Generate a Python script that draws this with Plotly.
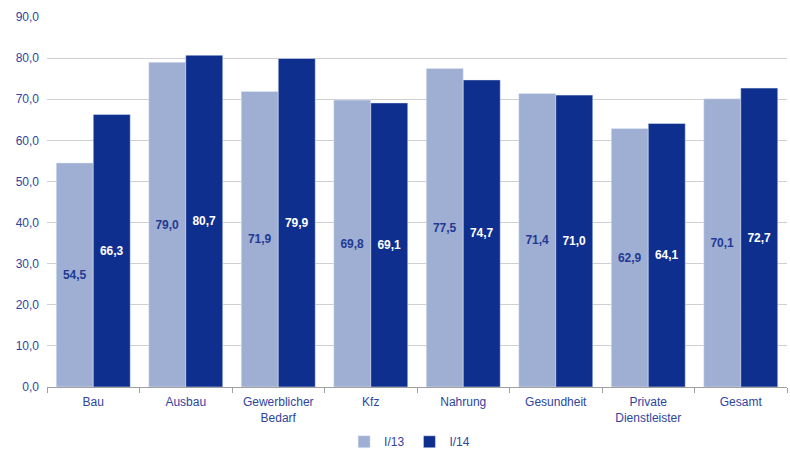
import plotly.graph_objects as go

categories = ["Bau", "Ausbau", "Gewerblicher<br>Bedarf", "Kfz", "Nahrung", "Gesundheit", "Private<br>Dienstleister", "Gesamt"]
i13 = [54.5, 79.0, 71.9, 69.8, 77.5, 71.4, 62.9, 70.1]
i14 = [66.3, 80.7, 79.9, 69.1, 74.7, 71.0, 64.1, 72.7]
y_ticks = [0, 10, 20, 30, 40, 50, 60, 70, 80, 90]

def fmt(v):
    return f"{v:.1f}".replace(".", ",")

txtcol = "#2E45A0"
fig = go.Figure()
fig.add_trace(go.Bar(x=categories, y=i13, name="I/13", marker_color="#9FAED3",
                     text=[fmt(v) for v in i13], textposition="inside", insidetextanchor="middle",
                     textfont=dict(color="#1F3A93", size=12, family="Liberation Sans", weight="bold"),
                     textangle=0))
fig.add_trace(go.Bar(x=categories, y=i14, name="I/14", marker_color="#0F2F8F",
                     text=[fmt(v) for v in i14], textposition="inside", insidetextanchor="middle",
                     textfont=dict(color="white", size=12, family="Liberation Sans", weight="bold"),
                     textangle=0))
fig.update_layout(
    width=790, height=452, barmode="group", bargap=0.2, bargroupgap=0,
    margin=dict(l=47, r=3, t=17, b=65, autoexpand=False),
    plot_bgcolor="white", paper_bgcolor="white",
    separators=",.",
    font=dict(family="Liberation Sans", size=12, color=txtcol),
    uniformtext=dict(minsize=12, mode="show"),
    legend=dict(orientation="h", x=0.49, xanchor="center", y=-0.148, yanchor="middle",
                font=dict(size=12, color=txtcol), itemwidth=30, traceorder="normal",
                tracegroupgap=0, bgcolor="rgba(0,0,0,0)"),
    yaxis=dict(range=[0, 90], tickvals=y_ticks, tickformat=".1f", showgrid=True,
               gridcolor="#CFCFCF", gridwidth=1, zeroline=False, showline=False,
               ticks="", tickfont=dict(size=12, color=txtcol), automargin=False,
               ticklabelstandoff=7),
    xaxis=dict(showline=True, linecolor="#A0A0A0", linewidth=1, ticks="outside",
               tickson="boundaries", ticklen=5, tickcolor="#A0A0A0",
               tickfont=dict(size=12, color=txtcol), automargin=False,
               ticklabelstandoff=4),
)
fig.write_html("out.html")
